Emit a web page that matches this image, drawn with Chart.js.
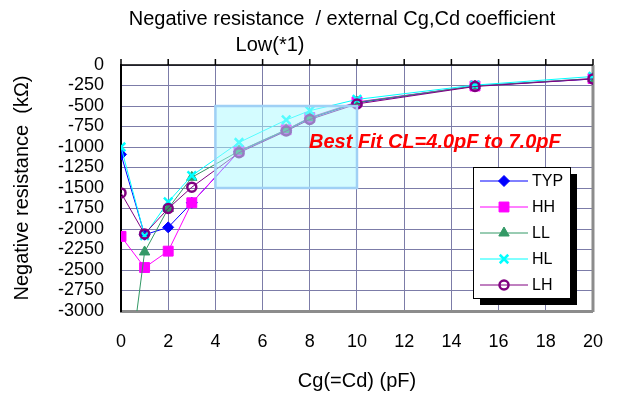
<!DOCTYPE html>
<html>
<head>
<meta charset="utf-8">
<script src="https://cdn.jsdelivr.net/npm/chart.js@4"></script>
<style>
  html, body { margin: 0; padding: 0; background: #fff; }
</style>
</head>
<body>
<canvas id="mycanvas" width="623" height="394"></canvas>
<script>
// data (kOhm, negative)
const cg = [0, 1, 2, 3, 5, 7, 8, 10, 15, 20];
const typ = [-1090, -2070, -1980, -1680, -1055, -795, -650, -460, -256, -170];
const hh  = [-2090, -2470, -2270, -1680, -1050, -790, -640, -450, -256, -165];
const ll  = [-4500, -2280, -1750, -1370, -1050, -790, -645, -455, -256, -165];
const hl  = [-1000, -2080, -1670, -1350, -945, -670, -557, -420, -245, -140];
const lh  = [-1560, -2060, -1750, -1490, -1070, -805, -665, -475, -262, -170];

const titleLines = ["Negative resistance  / external Cg,Cd coefficient", "Low(*1)"];
const fitBox = { x1: 4, x2: 10, y1: -500, y2: -1500 };
const fitText = "Best Fit CL=4.0pF to 7.0pF";

const FONT = "'Liberation Sans', Arial, sans-serif";
const gridColor = "#7c7ca8";

function pts(ys) {
    let out = [];
    for (let i in cg) out.push({ x: cg[i], y: ys[i] });
    return out;
}

function series(label, ys, color, style, radius, fill, bw, order) {
    return {
        label: label,
        data: pts(ys),
        borderColor: color,
        backgroundColor: fill,
        borderWidth: 1,
        pointStyle: style,
        pointRadius: radius,
        pointBorderColor: color,
        pointBackgroundColor: fill,
        pointBorderWidth: bw,
        showLine: true,
        tension: 0,
        order: order
    };
}

let chartdata = {
    datasets: [
        series("TYP", typ, "#0000ff", "rectRot", 5.5, "#0000ff", 1, 5),
        series("HH", hh, "#ff00ff", "rect", 7, "#ff00ff", 1, 4),
        series("LL", ll, "#339966", "triangle", 6, "#339966", 1, 3),
        series("HL", hl, "#00ffff", "crossRot", 6, "#00ffff", 2.5, 2),
        series("LH", lh, "#800080", "circle", 4.5, "rgba(0,0,0,0)", 2.5, 1)
    ]
};

const decor = {
    id: "decor",
    beforeDatasetsDraw(chart) {
        const ctx = chart.ctx, a = chart.chartArea, xs = chart.scales.x;
        ctx.save();
        // right frame
        ctx.strokeStyle = "#8c8c8c";
        ctx.lineWidth = 3;
        ctx.beginPath();
        ctx.moveTo(a.right, a.top);
        ctx.lineTo(a.right, a.bottom + 1);
        ctx.stroke();
        // x axis line at y=0 (top) with tick marks
        ctx.strokeStyle = "#000";
        ctx.lineWidth = 1.5;
        ctx.beginPath();
        ctx.moveTo(a.left, a.top);
        ctx.lineTo(a.right, a.top);
        for (let v = 0; v <= 20; v += 2) {
            let px = xs.getPixelForValue(v);
            ctx.moveTo(px, a.top);
            ctx.lineTo(px, a.top - 6);
        }
        ctx.stroke();
        ctx.restore();
    },
    afterDatasetsDraw(chart) {
        const ctx = chart.ctx, xs = chart.scales.x, ys = chart.scales.y;
        const l = xs.getPixelForValue(fitBox.x1), r = xs.getPixelForValue(fitBox.x2);
        const t = ys.getPixelForValue(fitBox.y1), b = ys.getPixelForValue(fitBox.y2);
        ctx.save();
        ctx.fillStyle = "rgba(170,250,255,0.5)";
        ctx.fillRect(l, t, r - l, b - t);
        ctx.strokeStyle = "#9fd0f5";
        ctx.lineWidth = 2.5;
        ctx.strokeRect(l, t, r - l, b - t);
        ctx.fillStyle = "#ff0000";
        ctx.font = "italic bold 20px " + FONT;
        ctx.textAlign = "center";
        ctx.textBaseline = "middle";
        ctx.fillText(fitText, xs.getPixelForValue(13.3), ys.getPixelForValue(-950));
        ctx.restore();
    },
    afterDraw(chart) {
        const ctx = chart.ctx;
        ctx.save();
        // title
        ctx.fillStyle = "#000";
        ctx.font = "20px " + FONT;
        ctx.textAlign = "center";
        ctx.textBaseline = "middle";
        ctx.fillText(titleLines[0], 342, 19);
        ctx.fillText(titleLines[1], 270, 45);
        // legend
        const lx = 473, ly = 167, lw = 97, lh = 131;
        ctx.fillStyle = "#000";
        ctx.fillRect(lx + 7, ly + 7, lw, lh);
        ctx.fillStyle = "#fff";
        ctx.fillRect(lx, ly, lw, lh);
        ctx.strokeStyle = "#000";
        ctx.lineWidth = 1;
        ctx.strokeRect(lx + 0.5, ly + 0.5, lw, lh);
        ctx.font = "16px " + FONT;
        ctx.textAlign = "left";
        chart.data.datasets.forEach(function(ds, i) {
            let y = 181 + i * 26;
            ctx.strokeStyle = ds.borderColor;
            ctx.lineWidth = 1;
            ctx.beginPath();
            ctx.moveTo(480, y);
            ctx.lineTo(528, y);
            ctx.stroke();
            ctx.fillStyle = ds.pointBackgroundColor;
            ctx.strokeStyle = ds.pointBorderColor;
            ctx.lineWidth = ds.pointBorderWidth;
            Chart.helpers.drawPoint(ctx, {
                pointStyle: ds.pointStyle,
                radius: ds.pointRadius,
                rotation: 0,
                borderWidth: ds.pointBorderWidth
            }, 504, y);
            ctx.fillStyle = "#000";
            ctx.fillText(ds.label, 532, y + 1);
        });
        ctx.restore();
    }
};

let ctx = document.getElementById("mycanvas");

let LineGraph = new Chart(ctx, {
    type: "scatter",
    data: chartdata,
    plugins: [decor],
    options: {
        responsive: false,
        animation: false,
        layout: { padding: { top: 65, right: 26, left: 0, bottom: 0 } },
        plugins: {
            legend: { display: false },
            title: { display: false },
            tooltip: { enabled: false }
        },
        scales: {
            x: {
                type: "linear",
                min: 0,
                max: 20,
                ticks: { stepSize: 2, color: "#000", padding: 20, font: { family: FONT, size: 18 } },
                grid: { color: gridColor, lineWidth: 1, drawTicks: false },
                border: { color: "#8c8c8c", width: 3 },
                title: { display: true, text: "Cg(=Cd) (pF)", color: "#000", padding: { top: 0, bottom: 1 }, font: { family: FONT, size: 20 } },
                afterFit(scale) { scale.height = 83; }
            },
            y: {
                min: -3000,
                max: 0,
                ticks: {
                    stepSize: 250,
                    autoSkip: false,
                    color: "#000",
                    padding: 17,
                    font: { family: FONT, size: 18, lineHeight: 1 },
                    callback: function(v) { return String(v); }
                },
                grid: { color: gridColor, lineWidth: 1, drawTicks: false },
                border: { color: "#000", width: 2 },
                title: { display: true, text: "Negative resistance  (kΩ)", color: "#000", padding: { top: 10, bottom: 0 }, font: { family: FONT, size: 20 } },
                afterFit(scale) { scale.width = 121; }
            }
        }
    }
});
</script>
</body>
</html>
